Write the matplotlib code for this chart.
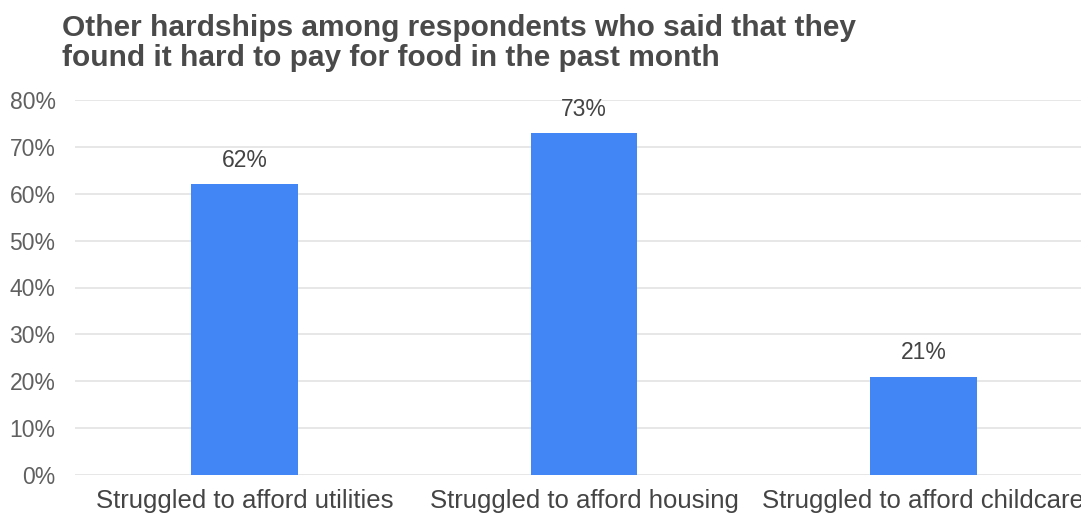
import matplotlib
matplotlib.use("Agg")
import matplotlib.pyplot as plt
from matplotlib.ticker import FuncFormatter

categories = ["Struggled to afford utilities", "Struggled to afford housing", "Struggled to afford childcare"]
values = [62, 73, 21]
yticks = [0, 10, 20, 30, 40, 50, 60, 70, 80]

plt.rcParams['font.family'] = ['Liberation Sans', 'DejaVu Sans']

W, H = 1081, 520
fig = plt.figure(figsize=(W / 100, H / 100), dpi=100)
# axes runs off the right edge so the last label gets cut like the original export
ax = fig.add_axes([75 / W, 45 / H, 1018 / W, 375 / H])

x = list(range(len(categories)))
bars = ax.bar(x, values, width=0.315, color='#4285f4', zorder=3)
for xi, v in zip(x, values):
    ax.text(xi, v + 2.6, f"{v}%", ha='center', va='bottom', fontsize=16.5, color='#444444')

ax.set_xlim(-0.5, 2.5)
ax.set_ylim(0, 80)
ax.set_yticks(yticks)
ax.yaxis.set_major_formatter(FuncFormatter(lambda v, p: f"{int(v)}%"))
ax.set_xticks(x)
ax.set_xticklabels(categories, fontsize=18.5, color='#444444')
ax.tick_params(axis='y', labelsize=16.5, labelcolor='#606060', length=0, pad=14)
ax.tick_params(axis='x', length=0, pad=10)
ax.grid(axis='y', color='#e3e3e3', linewidth=1.2, zorder=0)
for s in ax.spines.values():
    s.set_visible(False)

fig.text(62 / W, 1 - 14 / H, "Other hardships among respondents who said that they\nfound it hard to pay for food in the past month",
         ha='left', va='top', fontsize=21.5, fontweight='bold', color='#4a4a4a', linespacing=1.08)

fig.savefig("out.png", dpi=100)
